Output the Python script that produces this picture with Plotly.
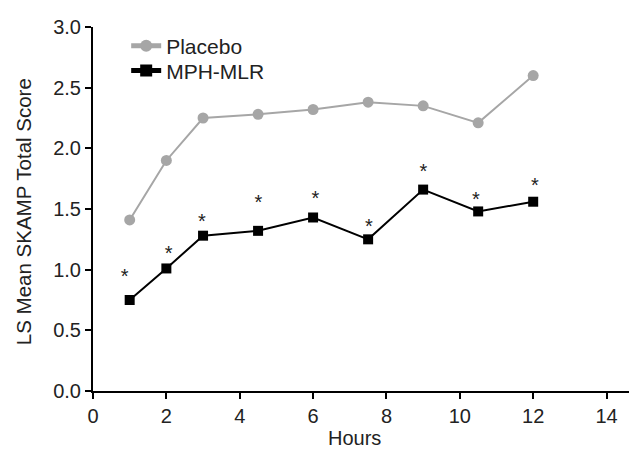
import plotly.graph_objects as go

hours = [1, 2, 3, 4.5, 6, 7.5, 9, 10.5, 12]
placebo = [1.41, 1.90, 2.25, 2.28, 2.32, 2.38, 2.35, 2.21, 2.60]
mph_mlr = [0.75, 1.01, 1.28, 1.32, 1.43, 1.25, 1.66, 1.48, 1.56]
star_x = [0.86, 2.06, 2.97, 4.51, 6.06, 7.52, 9.01, 10.44, 12.05]
star_y = [0.97, 1.16, 1.42, 1.58, 1.61, 1.38, 1.83, 1.60, 1.72]
x_ticks = [0, 2, 4, 6, 8, 10, 12, 14]
y_ticks = [0.0, 0.5, 1.0, 1.5, 2.0, 2.5, 3.0]

FONT = "Liberation Sans, Arial, sans-serif"
GRAY = "#a6a6a6"
TXT = "#222222"

fig = go.Figure()
fig.add_trace(go.Scatter(
    x=hours, y=placebo, name="Placebo", mode="lines+markers",
    line=dict(color=GRAY, width=2),
    marker=dict(symbol="circle", size=11, color=GRAY),
    cliponaxis=False, legend="legend",
))
fig.add_trace(go.Scatter(
    x=hours, y=mph_mlr, name="MPH-MLR", mode="lines+markers",
    line=dict(color="black", width=2),
    marker=dict(symbol="square", size=10, color="black"),
    cliponaxis=False, legend="legend2",
))
fig.add_trace(go.Scatter(
    x=star_x, y=[v - 0.035 for v in star_y], mode="text",
    text=["*"] * len(star_x),
    textposition="middle center", showlegend=False,
    textfont=dict(family=FONT, size=20, color=TXT),
    hoverinfo="skip", cliponaxis=False,
))

leg_common = dict(xanchor="left", yanchor="top", bgcolor="rgba(0,0,0,0)",
                  font=dict(size=21), tracegroupgap=0, itemsizing="constant")

fig.update_layout(
    width=637, height=449,
    margin=dict(l=85, r=8, t=15, b=66),
    plot_bgcolor="white", paper_bgcolor="white",
    font=dict(family=FONT, size=20, color=TXT),
    showlegend=True,
    legend=dict(x=0.061, y=1.004, **leg_common),
    legend2=dict(x=0.061, y=0.936, **leg_common),
    xaxis=dict(range=[0, 14.83], tickvals=x_ticks, showgrid=False,
               zeroline=False, showline=True, linecolor="black", linewidth=2,
               ticks="outside", ticklen=6, tickwidth=2, tickcolor="black",
               tickfont=dict(size=20)),
    yaxis=dict(range=[0, 3.0], tickvals=y_ticks, tickformat=".1f",
               showgrid=False, zeroline=False, showline=True,
               linecolor="black", linewidth=2,
               ticks="outside", ticklen=6, tickwidth=2, tickcolor="black",
               tickfont=dict(size=20)),
    annotations=[
        dict(text="Hours", xref="paper", yref="paper", x=0.4816, y=-0.1296,
             xanchor="center", yanchor="middle", showarrow=False,
             font=dict(size=20)),
        dict(text="LS Mean SKAMP Total Score", xref="paper", yref="paper",
             x=-0.1287, y=0.494, xanchor="center", yanchor="middle",
             textangle=-90, showarrow=False, font=dict(size=20.5)),
    ],
)

fig.write_html("out.html")
